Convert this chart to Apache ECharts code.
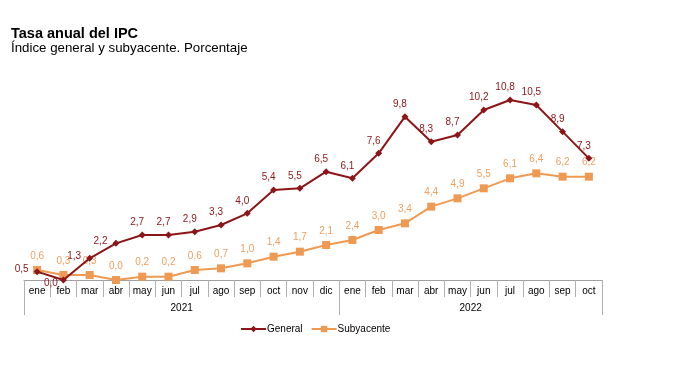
<!DOCTYPE html>
<html>
<head>
<meta charset="utf-8">
<script src="https://cdn.jsdelivr.net/npm/echarts@6/dist/echarts.min.js"></script>
<style>html,body{margin:0;padding:0;background:#fff}#c{width:682px;height:368px}</style>
</head>
<body>
<div id="c"></div>
<script>
const months = ['ene','feb','mar','abr','may','jun','jul','ago','sep','oct','nov','dic',
                'ene','feb','mar','abr','may','jun','jul','ago','sep','oct'];
const years = ['2021','2022'];
const yearLabelPos = [6, 17];
const yearSeparators = [0, 12, 22];
const general = [0.5, 0.0, 1.3, 2.2, 2.7, 2.7, 2.9, 3.3, 4.0, 5.4, 5.5, 6.5,
                 6.1, 7.6, 9.8, 8.3, 8.7, 10.2, 10.8, 10.5, 8.9, 7.3];
const subyacente = [0.6, 0.3, 0.3, 0.0, 0.2, 0.2, 0.6, 0.7, 1.0, 1.4, 1.7, 2.1,
                    2.4, 3.0, 3.4, 4.4, 4.9, 5.5, 6.1, 6.4, 6.2, 6.2];

const fmt = v => v.toFixed(1).replace('.', ',');
const FONT = '"Liberation Sans", Arial, sans-serif';
const RED = '#8b1518';
const ORANGE = '#ef9a52';

const genData = general.map((v, i) => {
  const d = { value: v };
  if (i <= 3) {
    d.label = { position: 'left', distance: i === 1 ? 2 : 5, offset: i === 1 ? [0, 3] : [0, -2] };
  }
  return d;
});

const chart = echarts.init(document.getElementById('c'));
chart.setOption({
  animation: false,
  backgroundColor: '#fff',
  title: {
    text: 'Tasa anual del IPC',
    subtext: 'Índice general y subyacente. Porcentaje',
    left: 11, top: 26,
    itemGap: 1,
    padding: 0,
    textStyle: { fontFamily: FONT, fontSize: 14.5, fontWeight: 'bold', color: '#000' },
    subtextStyle: { fontFamily: FONT, fontSize: 13.3, color: '#000' }
  },
  legend: {
    left: 240, top: 324, padding: 0,
    itemWidth: 25, itemHeight: 8, itemGap: 8,
    textStyle: { fontFamily: FONT, fontSize: 10, color: '#000', padding: [0, 0, 0, -4] },
    data: ['General', 'Subyacente']
  },
  grid: { left: 24, right: 80, top: 80, bottom: 87 },
  xAxis: [
    {
      type: 'category',
      data: months,
      boundaryGap: true,
      axisLine: { lineStyle: { color: '#a0a0a0', width: 1 } },
      axisTick: { show: true, interval: 0, length: 17, lineStyle: { color: '#b0b0b0' } },
      axisLabel: { interval: 0, margin: 5, fontFamily: FONT, fontSize: 10, color: '#000' }
    },
    {
      type: 'value',
      position: 'bottom',
      min: 0, max: 22,
      axisLine: { show: false },
      splitLine: { show: false },
      axisTick: { show: true, customValues: yearSeparators, length: 34, lineStyle: { color: '#b0b0b0' } },
      axisLabel: {
        customValues: yearLabelPos,
        margin: 22,
        fontFamily: FONT, fontSize: 10, color: '#000',
        formatter: v => years[yearLabelPos.indexOf(v)] || ''
      }
    }
  ],
  yAxis: {
    type: 'value',
    min: -0.06, max: 12,
    show: false,
    splitLine: { show: false }
  },
  series: [
    {
      name: 'Subyacente',
      type: 'line',
      data: subyacente,
      color: ORANGE,
      symbol: 'rect',
      symbolSize: 8,
      lineStyle: { width: 2, color: ORANGE },
      itemStyle: { color: ORANGE },
      label: {
        show: true, position: 'top', distance: 5,
        fontFamily: FONT, fontSize: 10, color: '#f0a060',
        formatter: p => fmt(p.value)
      },
      z: 2
    },
    {
      name: 'General',
      type: 'line',
      data: genData,
      color: RED,
      symbol: 'diamond',
      symbolSize: 7,
      lineStyle: { width: 2, color: RED },
      itemStyle: { color: RED },
      label: {
        show: true, position: 'top', distance: 4, offset: [-5, 0],
        fontFamily: FONT, fontSize: 10, color: RED,
        formatter: p => fmt(typeof p.value === 'number' ? p.value : p.data.value)
      },
      z: 3
    }
  ]
});
</script>
</body>
</html>
